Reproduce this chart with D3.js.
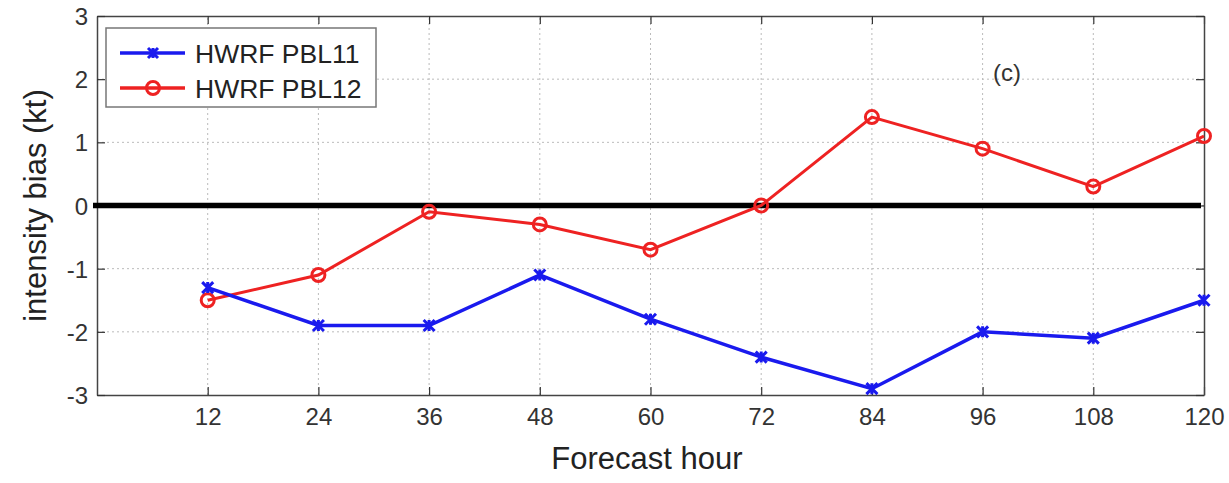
<!DOCTYPE html>
<html>
<head>
<meta charset="utf-8">
<script src="https://cdn.jsdelivr.net/npm/d3@7"></script>
<style>
  html, body { margin: 0; padding: 0; background: #fff; }
  svg { display: block; font-family: "Liberation Sans", Arial, sans-serif; }
  svg text { font-family: "Liberation Sans", Arial, sans-serif; }
</style>
</head>
<body>
<svg id="chart" width="1229" height="483"></svg>
<script>
// Forecast lead times (h) and mean intensity bias (kt) for each PBL configuration
const hours = [12, 24, 36, 48, 60, 72, 84, 96, 108, 120];
const pbl11 = [-1.3, -1.9, -1.9, -1.1, -1.8, -2.4, -2.9, -2.0, -2.1, -1.5];
const pbl12 = [-1.5, -1.1, -0.1, -0.3, -0.7, 0.0, 1.4, 0.9, 0.3, 1.1];
const yTicks = [-3, -2, -1, 0, 1, 2, 3];
const seriesNames = ["HWRF PBL11", "HWRF PBL12"];

const FONT = "'Liberation Sans', Arial, Helvetica, sans-serif";
const svg = d3.select("#chart");
const W = 1229, H = 483;
const m = { left: 97, right: W - 1204, top: 16, bottom: H - 395 };

const x = d3.scaleLinear().domain([0, 120]).range([m.left, W - m.right]);
const y = d3.scaleLinear().domain([-3, 3]).range([H - m.bottom, m.top]);

const axisColor = "#444";
const tickColor = "#333";

// dotted grid
const grid = svg.append("g");
grid.selectAll("line.gx").data(hours.slice(0, -1)).join("line")
  .attr("x1", d => x(d)).attr("x2", d => x(d))
  .attr("y1", y(-3)).attr("y2", y(3))
  .attr("stroke", "#bbb").attr("stroke-width", 1).attr("stroke-dasharray", "2,3");
grid.selectAll("line.gy").data(yTicks.slice(1, -1)).join("line")
  .attr("x1", x(0)).attr("x2", x(120))
  .attr("y1", d => y(d)).attr("y2", d => y(d))
  .attr("stroke", "#bbb").attr("stroke-width", 1).attr("stroke-dasharray", "2,3");

// axes (ticks pointing inward on all four sides)
const intFmt = d => String(d);
const axB = svg.append("g").attr("transform", `translate(0,${y(-3)})`)
  .call(d3.axisBottom(x).tickValues(hours).tickFormat(intFmt).tickSize(-8).tickPadding(13).tickSizeOuter(0));
const axT = svg.append("g").attr("transform", `translate(0,${y(3)})`)
  .call(d3.axisTop(x).tickValues(hours).tickSize(-8).tickFormat("").tickSizeOuter(0));
const axL = svg.append("g").attr("transform", `translate(${x(0)},0)`)
  .call(d3.axisLeft(y).tickValues(yTicks).tickFormat(intFmt).tickSize(-8).tickPadding(9).tickSizeOuter(0));
const axR = svg.append("g").attr("transform", `translate(${x(120)},0)`)
  .call(d3.axisRight(y).tickValues(yTicks).tickSize(-8).tickFormat("").tickSizeOuter(0));

[axB, axT, axL, axR].forEach(g => {
  g.attr("font-family", FONT).attr("font-size", 24);
  g.select(".domain").attr("stroke", axisColor).attr("stroke-width", 1.5);
  g.selectAll(".tick line").attr("stroke", tickColor).attr("stroke-width", 1.2);
  g.selectAll(".tick text").attr("fill", "#333")
    .style("font-family", FONT).style("font-size", "24px");
});
axL.selectAll(".tick text").attr("dy", "0.36em");

// zero reference line
svg.append("line")
  .attr("x1", x(0) - 4).attr("x2", x(120) - 3)
  .attr("y1", y(0)).attr("y2", y(0))
  .attr("stroke", "#000").attr("stroke-width", 5.5);

const line = d3.line().x((d, i) => x(hours[i])).y(d => y(d));

// PBL12 series: red with open circles
svg.append("path").datum(pbl12).attr("d", line)
  .attr("fill", "none").attr("stroke", "#ee2222").attr("stroke-width", 3);
svg.selectAll("circle.p12").data(pbl12).join("circle")
  .attr("cx", (d, i) => x(hours[i])).attr("cy", d => y(d)).attr("r", 6.5)
  .attr("fill", "none").attr("stroke", "#ee2222").attr("stroke-width", 3);

// PBL11 series: blue with cross markers
const crossPath = s => `M${-s},${-s}L${s},${s}M${-s},${s}L${s},${-s}M0,${-s}L0,${s}`;
svg.append("path").datum(pbl11).attr("d", line)
  .attr("fill", "none").attr("stroke", "#1a1aee").attr("stroke-width", 3.5);
svg.selectAll("path.p11").data(pbl11).join("path")
  .attr("transform", (d, i) => `translate(${x(hours[i])},${y(d)})`)
  .attr("d", crossPath(5.5))
  .attr("stroke", "#1a1aee").attr("stroke-width", 3).attr("fill", "none");

// legend
const lg = svg.append("g");
lg.append("rect").attr("x", 106).attr("y", 28).attr("width", 270).attr("height", 79)
  .attr("fill", "#fff").attr("stroke", "#777").attr("stroke-width", 1.5);
const rows = [
  { name: seriesNames[0], color: "#1a1aee", marker: "x", cy: 53 },
  { name: seriesNames[1], color: "#ee2222", marker: "o", cy: 88 }
];
rows.forEach(r => {
  lg.append("line").attr("x1", 120).attr("x2", 185).attr("y1", r.cy).attr("y2", r.cy)
    .attr("stroke", r.color).attr("stroke-width", 3.5);
  if (r.marker === "o") {
    lg.append("circle").attr("cx", 153).attr("cy", r.cy).attr("r", 6.5)
      .attr("fill", "none").attr("stroke", r.color).attr("stroke-width", 3);
  } else {
    lg.append("path").attr("transform", `translate(153,${r.cy})`).attr("d", crossPath(5))
      .attr("stroke", r.color).attr("stroke-width", 3).attr("fill", "none");
  }
  lg.append("text").attr("x", 195).attr("y", r.cy).attr("dy", "0.36em")
    .style("font-family", FONT).style("font-size", "26.5px").attr("fill", "#222").text(r.name);
});

// panel tag
svg.append("text").attr("x", 1007).attr("y", 72).attr("dy", "0.36em")
  .attr("text-anchor", "middle").style("font-family", FONT).style("font-size", "24px")
  .attr("fill", "#333").text("(c)");

// axis titles
svg.append("text").attr("x", 647).attr("y", 469).attr("text-anchor", "middle")
  .style("font-family", FONT).style("font-size", "31px").attr("fill", "#222").text("Forecast hour");
svg.append("text").attr("transform", `translate(46,${y(0)}) rotate(-90)`)
  .attr("text-anchor", "middle").style("font-family", FONT).style("font-size", "31px")
  .attr("fill", "#222").text("intensity bias (kt)");
</script>
</body>
</html>
